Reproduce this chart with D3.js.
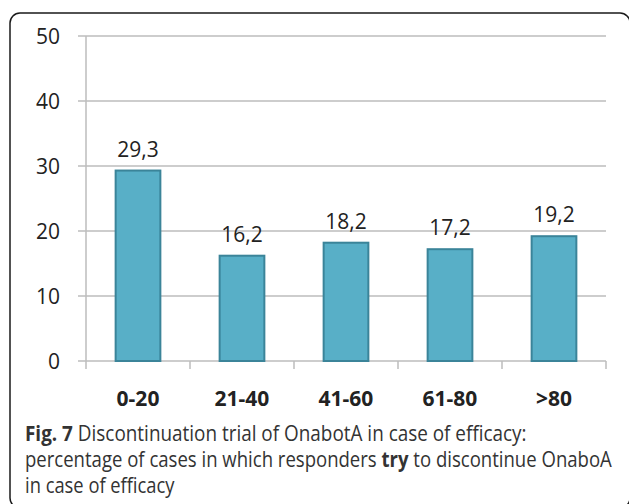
<!DOCTYPE html>
<html><head><meta charset="utf-8">
<script src="https://cdn.jsdelivr.net/npm/d3@7"></script>
<style>body{margin:0;background:#fff}svg{display:block}</style>
</head><body>
<svg id="c" width="629" height="504"></svg>
<script>
const categories = ["0-20", "21-40", "41-60", "61-80", ">80"];
const values = [29.3, 16.2, 18.2, 17.2, 19.2];
const valueLabels = ["29,3", "16,2", "18,2", "17,2", "19,2"];
const yTicks = [0, 10, 20, 30, 40, 50];

const svg = d3.select("#c");
const font = "'Open Sans', sans-serif";
const m = {left: 86, right: 606, top: 36, bottom: 361};

svg.append("rect").attr("x", 10).attr("y", 13).attr("width", 620).attr("height", 495)
  .attr("rx", 10).attr("fill", "none").attr("stroke", "#1a1a1a").attr("stroke-width", 1.5);

const x = d3.scaleBand().domain(categories).range([m.left, m.right]).paddingInner(0.57).paddingOuter(0.285);
const y = d3.scaleLinear().domain([0, 50]).range([m.bottom, m.top]);

// gridlines
const g = svg.append("g");
g.selectAll("line.grid").data(yTicks).join("line")
  .attr("x1", m.left - 8).attr("x2", m.right)
  .attr("y1", d => y(d)).attr("y2", d => y(d))
  .attr("stroke", "#bdbdbd").attr("stroke-width", 1.5);
// y axis line
g.append("line").attr("x1", m.left).attr("x2", m.left).attr("y1", m.top).attr("y2", m.bottom)
  .attr("stroke", "#bdbdbd").attr("stroke-width", 1.5);
// x ticks at band boundaries
const bounds = d3.range(categories.length + 1).map(i => m.left + i * (m.right - m.left) / categories.length);
g.selectAll("line.xt").data(bounds).join("line")
  .attr("x1", d => d).attr("x2", d => d).attr("y1", m.bottom).attr("y2", m.bottom + 8)
  .attr("stroke", "#bdbdbd").attr("stroke-width", 1.5);

// y labels
svg.selectAll("text.yl").data(yTicks).join("text")
  .attr("x", 60).attr("y", d => y(d) + 7.5)
  .attr("text-anchor", "end").attr("font-family", font).attr("font-size", 21).attr("fill", "#222")
  .text(d => d);

// bars
svg.selectAll("rect.bar").data(values).join("rect")
  .attr("x", (d, i) => x(categories[i])).attr("width", x.bandwidth())
  .attr("y", d => y(d)).attr("height", d => y(0) - y(d))
  .attr("fill", "#58afc7").attr("stroke", "#3b8499").attr("stroke-width", 2);

// value labels
svg.selectAll("text.vl").data(values).join("text")
  .attr("x", (d, i) => x(categories[i]) + x.bandwidth() / 2).attr("y", d => y(d) - 14)
  .attr("text-anchor", "middle").attr("font-family", font).attr("font-size", 21).attr("fill", "#222")
  .text((d, i) => valueLabels[i]);

// category labels
svg.selectAll("text.cl").data(categories).join("text")
  .attr("x", d => x(d) + x.bandwidth() / 2).attr("y", 406)
  .attr("text-anchor", "middle").attr("font-family", font).attr("font-weight", "bold")
  .attr("font-size", 21).attr("fill", "#222")
  .text(d => d);

// caption (horizontally scaled to match the condensed reference typeface)
const cap = svg.append("g").attr("font-family", font).attr("font-size", 21).attr("fill", "#333");
function fitLine(sel, yPos, target) {
  const w = sel.node().getBBox().width;
  sel.attr("transform", `translate(25,${yPos}) scale(${target / w},1)`);
}
const l1 = cap.append("text").attr("x", 0).attr("y", 0);
l1.append("tspan").attr("font-weight", "bold").text("Fig. 7");
l1.append("tspan").text(" Discontinuation trial of OnabotA in case of efficacy:");
fitLine(l1, 441, 502);
const l2 = cap.append("text").attr("x", 0).attr("y", 0);
l2.append("tspan").text("percentage of cases in which responders ");
l2.append("tspan").attr("font-weight", "bold").text("try");
l2.append("tspan").text(" to discontinue OnaboA");
fitLine(l2, 467, 588);
const l3 = cap.append("text").attr("x", 0).attr("y", 0).text("in case of efficacy");
fitLine(l3, 493, 150);
</script>
</body></html>
